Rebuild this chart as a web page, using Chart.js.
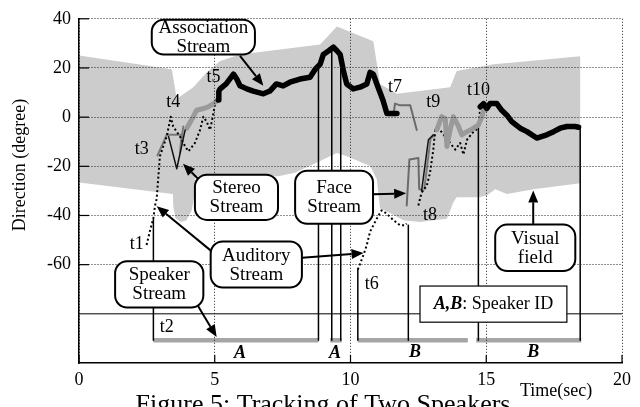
<!DOCTYPE html>
<html>
<head>
<meta charset="utf-8">
<script src="https://cdn.jsdelivr.net/npm/chart.js@4.4.1/dist/chart.umd.min.js"></script>
<style>
html, body { margin: 0; padding: 0; background: #fff; }
</style>
</head>
<body>
<canvas id="chart" width="640" height="407"></canvas>
<script>
// ---- values: [time (sec), direction (degree)] ----
const visualUpper = [[0,25.1],[3.42,19.5],[3.6,7.5],[4.21,12.2],[4.7,18.2],[5.2,22.8],[5.93,25.5],[8.88,29.5],
  [9.5,36.9],[10.84,30.9],[11.09,13.5],[11.71,9.5],[13.67,12.2],[13.91,18.8],[15.27,21.5],[16.0,22.2],[18.46,24.8]];
const visualLower = [[18.46,-26.9],[16.74,-29.3],[15.76,-31.3],[15.33,-29.3],[15.02,-31.9],[14.71,-32.6],[13.91,-32.6],
  [13.79,-34.6],[13.55,-41.3],[12.56,-42.6],[11.95,-41.9],[11.15,-37.3],[11.09,-37.3],[10.97,-25.3],[10.72,-19.9],
  [9.86,-15.9],[9.5,-14.6],[7.96,-22.6],[7.33,-24],[4.27,-24],[4.25,-32],[4.15,-38],[3.95,-42],[3.75,-42.7],
  [3.55,-41],[3.47,-36],[3.46,-31.3],[0,-26.6]];

const associationA = [[5.13,7],[5.15,10.5],[5.2,11.5],[5.42,13.5],[5.69,17.5],[5.81,15.5],[5.93,12.8],[6.18,11.5],
  [6.42,10.6],[6.79,9.5],[7.03,10.6],[7.27,13.5],[7.52,12.7],[7.77,14.2],[8.14,15.5],[8.51,16.2],[8.7,19.5],
  [8.88,21.5],[9.0,25.5],[9.2,27],[9.37,28.5],[9.5,27],[9.62,25.5],[9.74,18.8],[9.86,13.5],[10.1,11.5],
  [10.35,12.2],[10.6,13.5],[10.72,18.2],[10.84,17.5],[10.97,13.5],[11.2,6.8],[11.34,1.5],[11.71,1.5]];
const associationB = [[14.78,4.2],[14.9,5.5],[15.02,3.5],[15.14,5.5],[15.39,5.5],[15.57,2.8],[15.76,0.8],[15.94,-1.8],
  [16.25,-4.5],[16.5,-5.9],[16.86,-8.5],[17.23,-7.2],[17.48,-5.9],[17.72,-4.5],[17.97,-3.8],[18.27,-3.8],[18.4,-4.1]];
const associationGrayA = [[3.97,-4.5],[4.21,0.2],[4.33,2.8],[4.58,3.5],[4.76,4.2],[4.95,5.5],[5.13,7]];
const associationGrayB = [[13.18,-5.2],[13.36,0.2],[13.49,-0.5],[13.55,-11.9],[13.67,-5.2],[13.79,0.2],[13.98,-3.8],
  [14.1,-7.2],[14.29,-5.9],[14.53,-4.5],[14.71,-3.2],[14.84,0.2],[14.9,2.8]];

const stereoGrayA = [[2.89,-15.6],[3.23,-7.2],[3.78,-7.2],[3.72,-14.5],[3.84,-3.8]];
const stereoDarkA = [[3.3,-7.9],[3.6,-21],[3.91,-5.2]];
const stereoDarkB = [[12.62,-29.9],[12.87,-9.2],[13.05,-7.2]];
const stereoGrayB = [[12.72,-29],[12.95,-8.5],[13.12,-7.5]];

const faceA = [[11.58,0.8],[11.64,5.5],[11.83,4.8],[12.2,4.8],[12.44,-5.2]];
const faceB = [[12.07,-35.9],[12.17,-17.2],[12.5,-16.6],[12.53,-29.3],[12.68,-29.9]];

const auditoryA = [[2.49,-52],[2.62,-46],[2.74,-41],[2.8,-36],[2.86,-33.3],[2.98,-15.9],[3.23,-7.9],[3.38,0.2],
  [3.47,-3.8],[3.72,-7.9],[3.91,-11.9],[4.03,-13.9],[4.27,-10.5],[4.46,-5.2],[4.58,0.2],[4.7,-1.8],[4.83,-5.2],
  [4.95,1.5],[5.01,5.5]];
const auditoryB = [[10.27,-62],[10.48,-56],[10.6,-52],[10.72,-46.6],[10.84,-44],[11.03,-40],[11.15,-37.9],
  [11.34,-39.3],[11.58,-41.9],[11.83,-44],[12.01,-44],[12.07,-43.3]];
const auditoryC = [[12.5,-35.9],[12.62,-30.6],[12.81,-27.9],[12.93,-22.6],[13.05,-13.2],[13.12,-5.2],[13.24,-4.5],
  [13.67,-10.5],[13.86,-13.2],[14.04,-10.5],[14.16,-15.2],[14.29,-9.2],[14.53,-5.9],[14.71,-4.5],[14.78,4.2]];

// speaker stream: bars [start, end] at speakerLevel, vertical links [time, top]
const speakerLevel = -90.7;
const speakerBars = [[2.74,8.82],[9.25,9.68],[10.27,14.32],[14.63,18.5]];
const speakerIds = ['A','A','B','B'];
const speakerLinks = [[2.74,-41.3],[8.82,20.5],[9.31,27.5],[9.64,24],[10.27,-62],[12.13,-44],[14.71,-4.5],[18.46,-4]];
const idLine = -80;

const xTicks = [0,5,10,15,20];
const yTicks = [40,20,0,-20,-40,-60];

// ---- annotation layout (data units) ----
const callouts = [
  {box:[2.68,39.6,6.48,25.5], lines:['Association','Stream'], arrows:[[5.93,24.9,6.79,12.8]]},
  {box:[4.27,-23.4,7.33,-41.8], lines:['Stereo','Stream'], arrows:[[4.46,-25.9,3.83,-19.0]]},
  {box:[7.96,-21.8,10.83,-43.4], lines:['Face','Stream'], arrows:[[10.83,-31.4,12.05,-31.0]]},
  {box:[4.85,-50.6,8.21,-69.3], lines:['Auditory','Stream'], arrows:[[4.89,-54.6,2.86,-36.2],[8.22,-57.2,10.48,-55.3]]},
  {box:[1.33,-58.6,4.58,-77.4], lines:['Speaker','Stream'], arrows:[[4.34,-76.0,5.07,-89.4]]},
  {box:[15.33,-43.7,18.28,-62.6], lines:['Visual','field'], arrows:[[16.73,-43.4,16.73,-29.8]]}
];
const tLabels = [['t1',2.13,-51.9],['t2',3.23,-85.4],['t3',2.31,-13.2],['t4',3.47,6.2],['t5',4.95,16.2],
  ['t6',10.78,-68.0],['t7',11.64,12.2],['t8',12.93,-39.9],['t9',13.05,6.2],['t10',14.71,10.8]];
const idLabelPos = [[5.93,-95.9],[9.43,-95.9],[12.38,-95.6],[16.73,-95.6]];
const idBox = [12.56,-68.7,17.97,-83.4];

const FONT = "'Liberation Serif', 'DejaVu Serif', serif";
Chart.defaults.font.family = FONT;
Chart.defaults.font.size = 18;
Chart.defaults.color = '#000';

const pts = a => a.map(([x, y]) => ({x, y}));
function series(data, color, width, extra) {
  return Object.assign({data: pts(data), showLine: true, borderColor: color, borderWidth: width,
    pointRadius: 0, fill: false, borderJoinStyle: 'round', borderCapStyle: 'round', order: 1}, extra || {});
}

const datasets = [];
datasets.push(series(visualUpper.concat(visualLower), 'rgba(0,0,0,0)', 0,
  {fill: 'shape', backgroundColor: '#cccccc', order: 10}));
datasets.push(series([[0, idLine],[20, idLine]], '#000', 1, {order: 5, borderCapStyle: 'butt'}));
speakerBars.forEach(b => datasets.push(series([[b[0], speakerLevel],[b[1], speakerLevel]], '#a6a6a6', 4.5,
  {order: 4, borderCapStyle: 'butt'})));
speakerLinks.forEach(l => datasets.push(series([[l[0], l[1]],[l[0], speakerLevel]], '#000', 1.5,
  {order: 3, borderCapStyle: 'butt'})));
[auditoryA, auditoryB, auditoryC].forEach(a => datasets.push(series(a, '#000', 2,
  {borderDash: [2, 2.5], borderCapStyle: 'butt', order: 2})));
[stereoGrayA, stereoGrayB].forEach(a => datasets.push(series(a, '#7a7a7a', 2, {order: 2})));
[faceA, faceB].forEach(a => datasets.push(series(a, '#6b6b6b', 2, {order: 2})));
[stereoDarkA, stereoDarkB].forEach(a => datasets.push(series(a, '#111', 1.5, {order: 1})));
[associationGrayA, associationGrayB].forEach(a => datasets.push(series(a, '#9a9a9a', 5, {order: 1})));
[associationA, associationB].forEach(a => datasets.push(series(a, '#000', 5.5, {order: 0})));

function roundBox(ctx, x0, y0, x1, y1, r) {
  ctx.beginPath();
  ctx.moveTo(x0 + r, y0);
  ctx.arcTo(x1, y0, x1, y1, r);
  ctx.arcTo(x1, y1, x0, y1, r);
  ctx.arcTo(x0, y1, x0, y0, r);
  ctx.arcTo(x0, y0, x1, y0, r);
  ctx.closePath();
}

function arrow(ctx, x0, y0, x1, y1) {
  const a = Math.atan2(y1 - y0, x1 - x0), L = 12, W = 5;
  const bx = x1 - L * Math.cos(a), by = y1 - L * Math.sin(a);
  ctx.beginPath(); ctx.moveTo(x0, y0); ctx.lineTo(bx, by); ctx.stroke();
  ctx.beginPath();
  ctx.moveTo(x1, y1);
  ctx.lineTo(bx - W * Math.sin(a), by + W * Math.cos(a));
  ctx.lineTo(bx + W * Math.sin(a), by - W * Math.cos(a));
  ctx.closePath(); ctx.fill();
}

const notes = {
  id: 'notes',
  afterDraw(chart) {
    const {ctx, chartArea: area} = chart;
    const sx = chart.scales.x, sy = chart.scales.y;
    const X = t => sx.getPixelForValue(t), Y = d => sy.getPixelForValue(d);
    ctx.save();

    // inward tick marks
    ctx.strokeStyle = '#000'; ctx.lineWidth = 1.2;
    yTicks.forEach(v => { ctx.beginPath(); ctx.moveTo(area.left, Y(v)); ctx.lineTo(area.left + 10, Y(v)); ctx.stroke(); });
    xTicks.forEach(v => { ctx.beginPath(); ctx.moveTo(X(v), area.bottom); ctx.lineTo(X(v), area.bottom - 8); ctx.stroke(); });

    ctx.fillStyle = '#000';
    ctx.textAlign = 'center'; ctx.textBaseline = 'middle';
    ctx.font = '18px ' + FONT;
    tLabels.forEach(([s, t, d]) => ctx.fillText(s, X(t), Y(d)));

    ctx.font = 'italic bold 18px ' + FONT;
    speakerIds.forEach((s, i) => ctx.fillText(s, X(idLabelPos[i][0]), Y(idLabelPos[i][1])));

    // speaker id box
    const bx0 = X(idBox[0]), by0 = Y(idBox[1]), bx1 = X(idBox[2]), by1 = Y(idBox[3]);
    ctx.fillStyle = '#fff'; ctx.fillRect(bx0, by0, bx1 - bx0, by1 - by0);
    ctx.strokeStyle = '#000'; ctx.lineWidth = 1.2; ctx.strokeRect(bx0, by0, bx1 - bx0, by1 - by0);
    ctx.fillStyle = '#000'; ctx.textAlign = 'left';
    ctx.font = 'italic bold 18px ' + FONT;
    const w1 = ctx.measureText('A,B').width;
    ctx.font = '18px ' + FONT;
    const w2 = ctx.measureText(': Speaker ID').width;
    let tx = (bx0 + bx1) / 2 - (w1 + w2) / 2;
    const ty = (by0 + by1) / 2;
    ctx.font = 'italic bold 18px ' + FONT; ctx.fillText('A,B', tx, ty);
    ctx.font = '18px ' + FONT; ctx.fillText(': Speaker ID', tx + w1, ty);

    // callouts
    ctx.textAlign = 'center';
    ctx.font = '19px ' + FONT;
    callouts.forEach(c => {
      ctx.strokeStyle = '#000'; ctx.fillStyle = '#000'; ctx.lineWidth = 2;
      c.arrows.forEach(a => arrow(ctx, X(a[0]), Y(a[1]), X(a[2]), Y(a[3])));
      const x0 = X(c.box[0]), y0 = Y(c.box[1]), x1 = X(c.box[2]), y1 = Y(c.box[3]);
      roundBox(ctx, x0, y0, x1, y1, 12);
      ctx.fillStyle = '#fff'; ctx.fill();
      ctx.lineWidth = 2; ctx.stroke();
      ctx.fillStyle = '#000';
      const cy = (y0 + y1) / 2;
      ctx.fillText(c.lines[0], (x0 + x1) / 2, cy - 9);
      ctx.fillText(c.lines[1], (x0 + x1) / 2, cy + 10);
    });

    // axis titles and caption
    ctx.font = '18px ' + FONT;
    ctx.textAlign = 'left';
    ctx.fillText('Time(sec)', 520, 391);
    ctx.save();
    ctx.translate(20, 165); ctx.rotate(-Math.PI / 2);
    ctx.textAlign = 'center';
    ctx.fillText('Direction (degree)', 0, 0);
    ctx.restore();
    ctx.font = '26px ' + FONT;
    ctx.textAlign = 'center'; ctx.textBaseline = 'alphabetic';
    ctx.fillText('Figure 5: Tracking of Two Speakers', 323, 412);
    ctx.restore();
  }
};

new Chart(document.getElementById('chart'), {
  type: 'scatter',
  data: {datasets},
  options: {
    responsive: false,
    animation: false,
    events: [],
    layout: {padding: {top: 14, right: 18, left: 0, bottom: 0}},
    plugins: {legend: {display: false}, tooltip: {enabled: false}},
    scales: {
      x: {
        type: 'linear', min: 0, max: 20,
        afterFit: s => { s.height = 44; },
        afterBuildTicks: s => { s.ticks = xTicks.map(v => ({value: v})); },
        ticks: {padding: 6, maxRotation: 0, callback: v => String(v)},
        grid: {z: 1, color: '#222', lineWidth: 1, drawTicks: false},
        border: {display: true, color: '#000', width: 1.5, dash: [1, 2], z: 2}
      },
      y: {
        type: 'linear', min: -100, max: 40,
        afterFit: s => { s.width = 79; },
        afterBuildTicks: s => { s.ticks = [-100, -80].concat(yTicks.slice().reverse()).map(v => ({value: v})); },
        ticks: {padding: 8, callback: v => (v >= -60 ? String(v) : '')},
        grid: {z: 1, lineWidth: 1, drawTicks: false,
          color: c => (c.tick && c.tick.value < -60 ? 'rgba(0,0,0,0)' : '#222')},
        border: {display: true, color: '#000', width: 1.5, dash: [1, 2], z: 2}
      }
    }
  },
  plugins: [notes]
});
</script>
</body>
</html>
